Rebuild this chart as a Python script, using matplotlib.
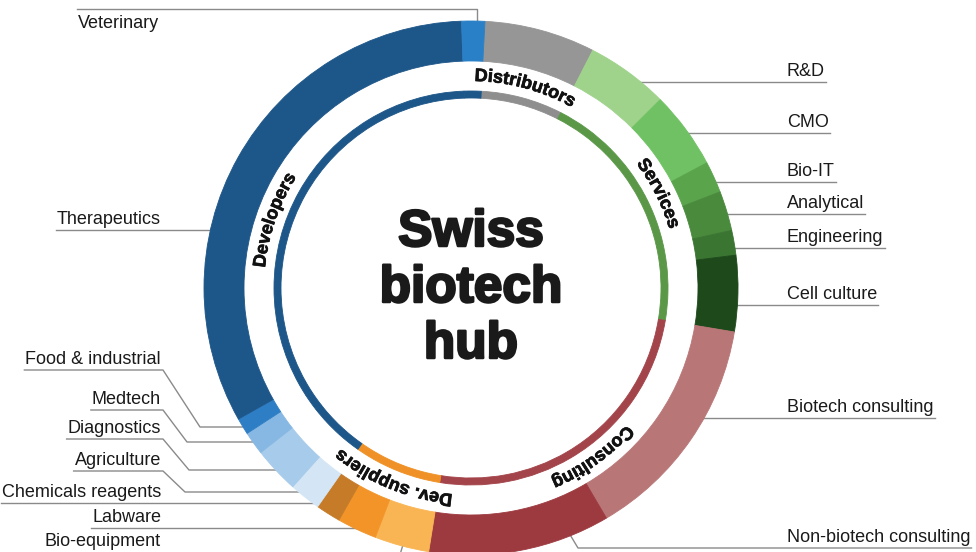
import numpy as np
import matplotlib
matplotlib.use('Agg')
import matplotlib.pyplot as plt
import matplotlib.patheffects as pe
from matplotlib import font_manager
from matplotlib.font_manager import FontProperties
from matplotlib.ft2font import FT2Font

W, H = 976, 552

# outer ring, clockwise from the top (Distributors first)
segments = ['Distributors', 'R&D', 'CMO', 'Bio-IT', 'Analytical', 'Engineering',
            'Cell culture', 'Biotech consulting', 'Non-biotech consulting',
            'Bio-equipment', 'Labware', 'Chemicals reagents', 'Agriculture',
            'Diagnostics', 'Medtech', 'Food & industrial', 'Therapeutics', 'Veterinary']
shares = [6.7, 5.0, 4.7, 1.9, 2.4, 1.5, 4.6, 13.9, 11.0,
          3.3, 2.4, 1.5, 1.9, 2.8, 1.4, 1.0, 32.6, 1.4]
groups = ['Distributors', 'Services', 'Services', 'Services', 'Services', 'Services',
          'Services', 'Consulting', 'Consulting', 'Dev. suppliers', 'Dev. suppliers',
          'Dev. suppliers', 'Developers', 'Developers', 'Developers', 'Developers',
          'Developers', 'Developers']
seg_colors = ['#969696', '#9fd38b', '#6fc163', '#5aa44c', '#4a8a3d', '#3b7532',
              '#1e4a1b', '#b97677', '#9d3a40', '#f9b553', '#f29428', '#c67b28',
              '#d4e6f5', '#a7cbea', '#86b8e3', '#2e7ec5', '#1d5689', '#2a80c6']

group_names = ['Distributors', 'Services', 'Consulting', 'Dev. suppliers', 'Developers']
group_colors = ['#8e8e8e', '#5a9848', '#a3434a', '#ef9126', '#1d5689']

# layout (pixel coords of the picture, y measured from the top)
CX, CY = 471, 288
R_OUT, RING_W = 267, 40
R_IN, IN_W = 197, 7
R_TEXT = 207
START = 87

# right side labels: name, y of the underline
right_labels = [('R&D', 82), ('CMO', 133), ('Bio-IT', 182), ('Analytical', 214),
                ('Engineering', 248), ('Cell culture', 305), ('Biotech consulting', 418)]
# left side labels: name, y of the underline, kink point of the leader
left_labels = [('Food & industrial', 370, (200, 427)),
               ('Medtech', 410, (187, 442)),
               ('Diagnostics', 439, (189, 470)),
               ('Agriculture', 471, (185, 492)),
               ('Chemicals reagents', 503, None),
               ('Labware', 528, None)]

LINE_C = '#8a8a8a'
FONT = 'Liberation Sans'


def Y(y):
    return H - y


def ring_x(y, side, r=252):
    dy = y - CY
    return CX + side * np.sqrt(r ** 2 - dy ** 2)


fig = plt.figure(figsize=(W / 100, H / 100), dpi=100)
ax = fig.add_axes([0, 0, 1, 1])

wedges, _ = ax.pie(shares, colors=seg_colors, startangle=START, counterclock=False,
                   radius=R_OUT, center=(CX, Y(CY)),
                   wedgeprops=dict(width=RING_W, linewidth=0.6))
for w in wedges:
    w.set_edgecolor(w.get_facecolor())

inner_colors = [group_colors[group_names.index(g)] for g in groups]
wedges, _ = ax.pie(shares, colors=inner_colors, startangle=START, counterclock=False,
                   radius=R_IN, center=(CX, Y(CY)),
                   wedgeprops=dict(width=IN_W, linewidth=0.6))
for w in wedges:
    w.set_edgecolor(w.get_facecolor())

ax.set_xlim(0, W)
ax.set_ylim(0, H)
ax.set_aspect('equal')
ax.axis('off')

# curved group labels
LBL_SIZE = 13
bold = FontProperties(family=FONT, weight='bold', size=LBL_SIZE)
ft = FT2Font(font_manager.findfont(bold))
ft.set_size(LBL_SIZE, 100)

bounds = START - np.concatenate([[0], np.cumsum(shares)]) / sum(shares) * 360
for g in group_names:
    idx = [i for i, gg in enumerate(groups) if gg == g]
    mid = (bounds[idx[0]] + bounds[idx[-1] + 1]) / 2
    adv = [ft.load_char(ord(c)).linearHoriAdvance / 65536 for c in g]
    total = sum(adv)
    pos = 0
    for ch, a in zip(g, adv):
        off = pos + a / 2 - total / 2
        pos += a
        ang = mid - np.degrees(off / R_TEXT)
        t = np.radians(ang)
        ax.text(CX + R_TEXT * np.cos(t), Y(CY) + R_TEXT * np.sin(t), ch,
                rotation=ang - 90, rotation_mode='anchor', ha='center',
                va='baseline', fontproperties=bold, color='#111111',
                path_effects=[pe.withStroke(linewidth=0.5, foreground='#111111')])

# centre title
for word, yb in [('Swiss', 246), ('biotech', 302), ('hub', 358)]:
    ax.text(CX, Y(yb), word, ha='center', va='baseline', family=FONT,
            weight='bold', size=37, color='#1a1a1a',
            path_effects=[pe.withStroke(linewidth=1.8, foreground='#1a1a1a')])

renderer = fig.canvas.get_renderer()
inv = ax.transData.inverted()


def text_box(t):
    bb = t.get_window_extent(renderer=renderer)
    (x0, _), (x1, _) = inv.transform([[bb.x0, bb.y0], [bb.x1, bb.y1]])
    return x0, x1


# right labels
for name, ly in right_labels:
    t = ax.text(787, Y(ly - 6), name, ha='left', va='baseline', family=FONT,
                size=13, color='#1a1a1a')
    x0, x1 = text_box(t)
    ax.plot([ring_x(ly, 1), x1 + 1], [Y(ly), Y(ly)], color=LINE_C, lw=1.0, zorder=0.5)

t = ax.text(787, Y(542), 'Non-biotech consulting', ha='left', va='baseline',
            family=FONT, size=13, color='#1a1a1a')
x0, x1 = text_box(t)
ax.plot([566, 578, x1 + 1], [Y(528), Y(548), Y(548)], color=LINE_C, lw=1.0, zorder=0.5)

# left labels
for name, ly, kink in left_labels:
    t = ax.text(161, Y(ly - 6), name, ha='right', va='baseline', family=FONT,
                size=13, color='#1a1a1a')
    x0, x1 = text_box(t)
    if kink is None:
        xs = [x0 - 1, ring_x(ly, -1)]
        ys = [ly, ly]
    else:
        xs = [x0 - 1, 163, kink[0], ring_x(kink[1], -1)]
        ys = [ly, ly, kink[1], kink[1]]
    ax.plot(xs, [Y(v) for v in ys], color=LINE_C, lw=1.0, zorder=0.5)

t = ax.text(57, Y(224), 'Therapeutics', ha='left', va='baseline', family=FONT,
            size=13, color='#1a1a1a')
x0, x1 = text_box(t)
ax.plot([x0 - 1, ring_x(230, -1)], [Y(230), Y(230)], color=LINE_C, lw=1.0, zorder=0.5)

t = ax.text(78, Y(28), 'Veterinary', ha='left', va='baseline', family=FONT,
            size=13, color='#1a1a1a')
x0, x1 = text_box(t)
ax.plot([x0 - 1, 477, 477], [Y(9), Y(9), Y(45)], color=LINE_C, lw=1.0, zorder=0.5)

ax.text(161, Y(546), 'Bio-equipment', ha='right', va='baseline', family=FONT,
        size=13, color='#1a1a1a')
ax.plot([405, 399], [Y(538), Y(558)], color=LINE_C, lw=1.0, zorder=0.5)

fig.savefig('out.png', dpi=100)
